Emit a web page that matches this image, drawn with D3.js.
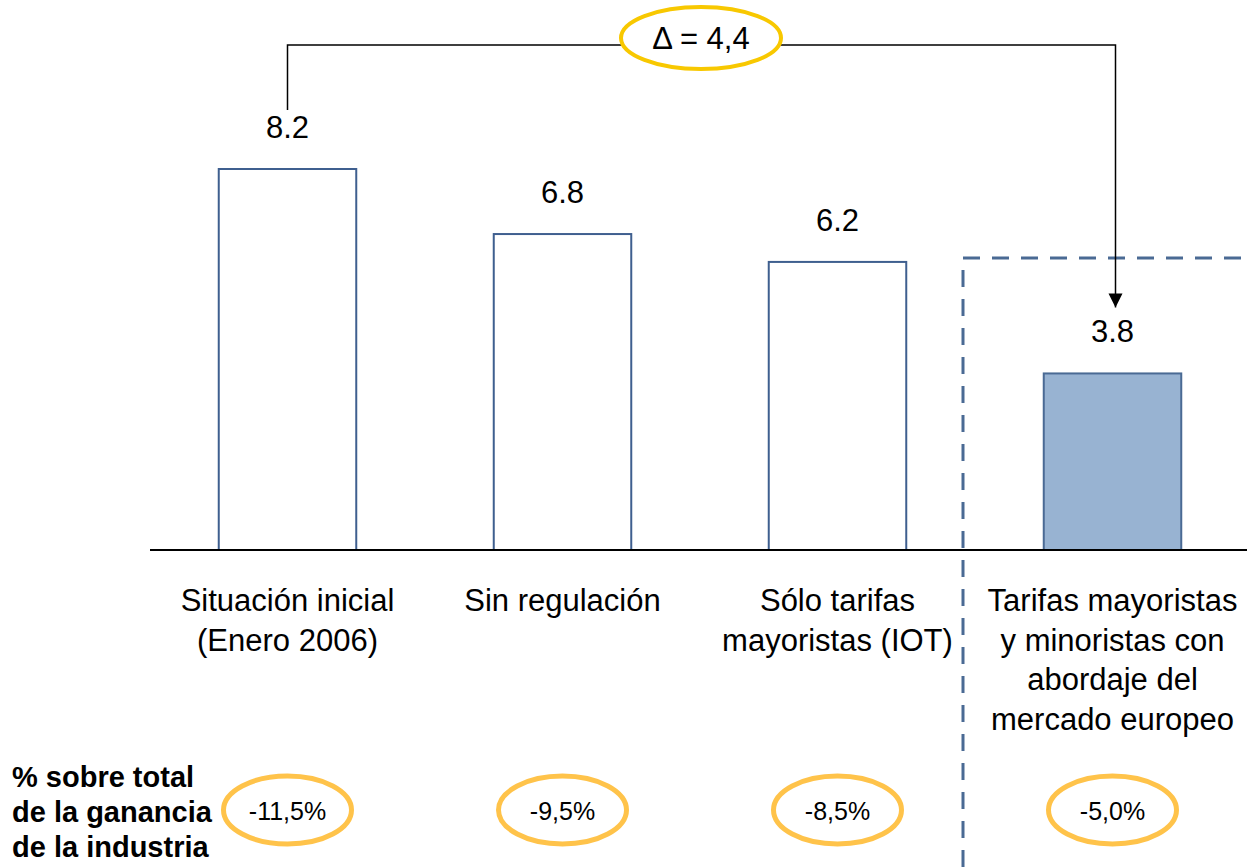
<!DOCTYPE html>
<html>
<head>
<meta charset="utf-8">
<script src="https://cdn.jsdelivr.net/npm/d3@7"></script>
<style>
  body { margin: 0; background: #fff; }
  text { font-family: "Liberation Sans", Arial, sans-serif; }
</style>
</head>
<body>
<div id="chart"></div>
<script>
// chart data
const categories = [
  ["Situación inicial", "(Enero 2006)"],
  ["Sin regulación"],
  ["Sólo tarifas", "mayoristas (IOT)"],
  ["Tarifas mayoristas", "y minoristas con", "abordaje del", "mercado europeo"]
];
const values = [8.2, 6.8, 6.2, 3.8];
const valueLabels = ["8.2", "6.8", "6.2", "3.8"];
const pctLabels = ["-11,5%", "-9,5%", "-8,5%", "-5,0%"];
const deltaLabel = "Δ = 4,4";
const sideLabel = ["% sobre total", "de la ganancia", "de la industria"];

const width = 1247;
const height = 867;
const baseY = 550;

const svg = d3.select("#chart")
  .append("svg")
  .attr("width", width)
  .attr("height", height);

// scales
const xScale = d3.scaleBand()
  .domain(d3.range(values.length))
  .range([150, 1250])
  .paddingInner(0.5)
  .paddingOuter(0.25);

const yScale = d3.scaleLinear()
  .domain([0, 8.2])
  .range([baseY, 169]);

const cx = i => xScale(i) + xScale.bandwidth() / 2;

// bars
svg.selectAll(".bar")
  .data(values)
  .enter()
  .append("rect")
    .attr("class", "bar")
    .attr("x", (d, i) => xScale(i))
    .attr("y", d => yScale(d))
    .attr("width", xScale.bandwidth())
    .attr("height", d => baseY - yScale(d))
    .attr("fill", (d, i) => i === 3 ? "#98b3d2" : "#fff")
    .attr("stroke", (d, i) => i === 3 ? "#4a6a94" : "#3f5f8f")
    .attr("stroke-width", 2);

// baseline
svg.append("line")
  .attr("x1", 150).attr("x2", width)
  .attr("y1", baseY).attr("y2", baseY)
  .attr("stroke", "#000").attr("stroke-width", 2);

// value labels
svg.selectAll(".val")
  .data(values)
  .enter()
  .append("text")
    .attr("x", (d, i) => cx(i))
    .attr("y", d => yScale(d) - 31)
    .attr("text-anchor", "middle")
    .attr("font-size", "31px")
    .text((d, i) => valueLabels[i]);

// category labels
categories.forEach((lines, i) => {
  const t = svg.append("text")
    .attr("text-anchor", "middle")
    .attr("font-size", "31px");
  lines.forEach((line, j) => {
    t.append("tspan")
      .attr("x", cx(i))
      .attr("y", 611 + j * 39.5)
      .text(line);
  });
});

// dashed box
svg.append("path")
  .attr("d", `M963,867 V258 H${width}`)
  .attr("fill", "none")
  .attr("stroke", "#4a6a94")
  .attr("stroke-width", 3)
  .attr("stroke-dasharray", "17,12");

// bracket with arrow
svg.append("defs").append("marker")
  .attr("id", "arrow")
  .attr("viewBox", "0 0 10 10")
  .attr("refX", 10).attr("refY", 5)
  .attr("markerWidth", 14).attr("markerHeight", 16)
  .attr("markerUnits", "userSpaceOnUse")
  .attr("orient", "auto")
  .append("path")
    .attr("d", "M0,0 L10,5 L0,10 Z")
    .attr("fill", "#000");

const topY = 45;
svg.append("path")
  .attr("d", `M${cx(0)},${yScale(values[0]) - 59} V${topY} H${cx(3) + 3} V${yScale(values[3]) - 66}`)
  .attr("fill", "none")
  .attr("stroke", "#000")
  .attr("stroke-width", 1.5)
  .attr("marker-end", "url(#arrow)");

// delta ellipse
svg.append("ellipse")
  .attr("cx", 701).attr("cy", 38)
  .attr("rx", 80).attr("ry", 31)
  .attr("fill", "#fff")
  .attr("stroke", "#f8c800")
  .attr("stroke-width", 4);
svg.append("text")
  .attr("x", 701).attr("y", 49)
  .attr("text-anchor", "middle")
  .attr("font-size", "31px")
  .text(deltaLabel);

// percentage ellipses
svg.selectAll(".pct")
  .data(pctLabels)
  .enter()
  .append("ellipse")
    .attr("cx", (d, i) => cx(i))
    .attr("cy", 810)
    .attr("rx", 64).attr("ry", 34)
    .attr("fill", "none")
    .attr("stroke", "#ffc34a")
    .attr("stroke-width", 5);
svg.selectAll(".pctText")
  .data(pctLabels)
  .enter()
  .append("text")
    .attr("x", (d, i) => cx(i))
    .attr("y", 820)
    .attr("text-anchor", "middle")
    .attr("font-size", "25px")
    .text(d => d);

// side label
const side = svg.append("text")
  .attr("font-size", "29px")
  .attr("font-weight", "bold");
sideLabel.forEach((line, j) => {
  side.append("tspan")
    .attr("x", 12)
    .attr("y", 787 + j * 35)
    .text(line);
});
</script>
</body>
</html>
